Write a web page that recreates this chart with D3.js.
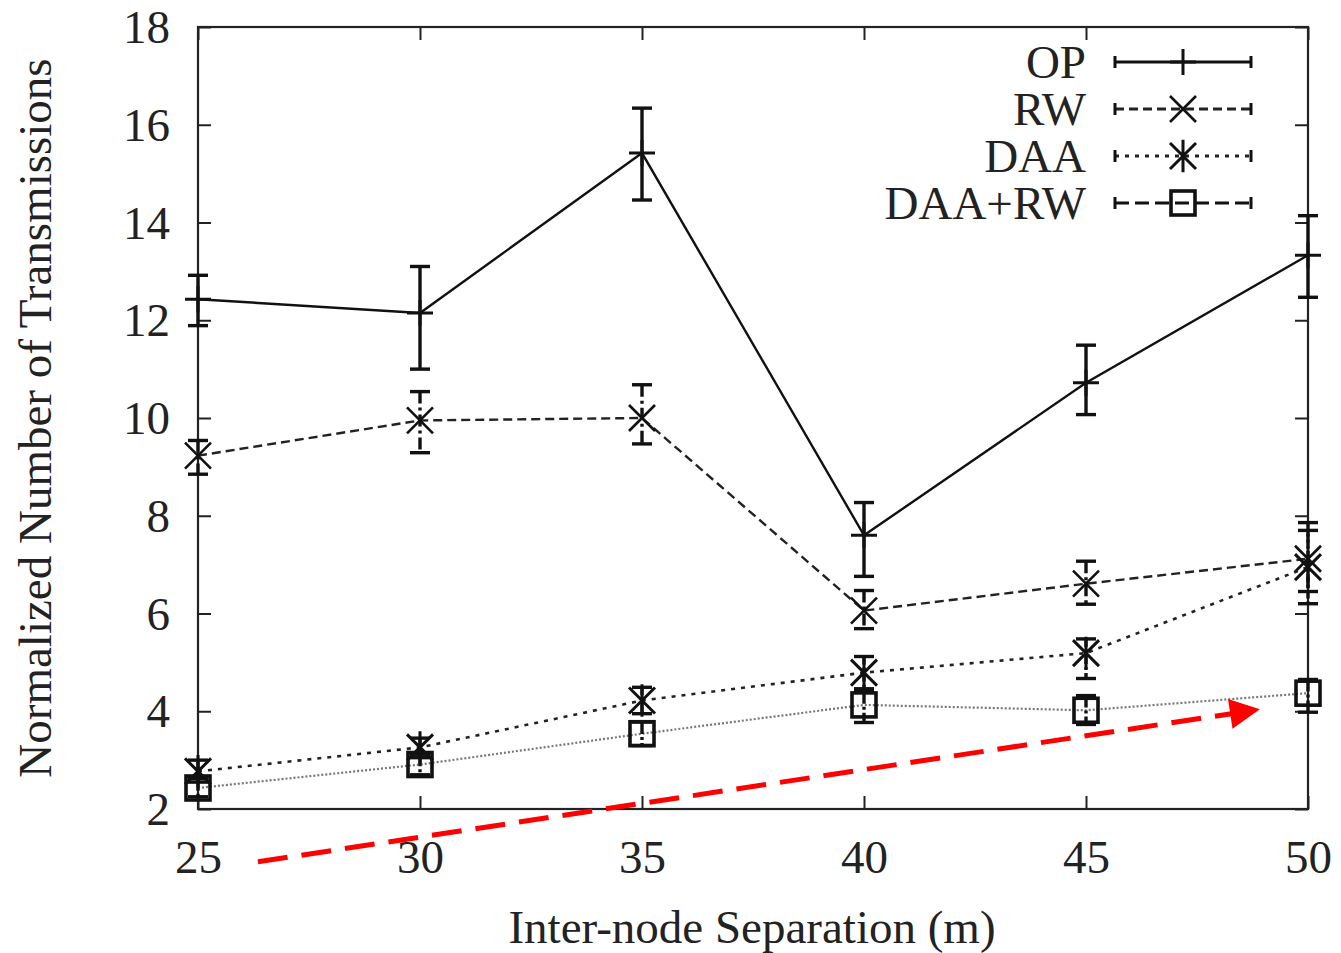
<!DOCTYPE html>
<html><head><meta charset="utf-8">
<script src="https://cdn.jsdelivr.net/npm/d3@7"></script>
<style>body{margin:0;background:#fff}svg{display:block}text{font-family:"Liberation Serif","DejaVu Serif",serif;fill:#222}</style>
</head><body>
<svg id="c" width="1341" height="953"></svg>
<script>
const separation = [25, 30, 35, 40, 45, 50];
const xTicks = [25, 30, 35, 40, 45, 50];
const yTicks = [2, 4, 6, 8, 10, 12, 14, 16, 18];
const seriesNames = ["OP", "RW", "DAA", "DAA+RW"];
const opMean = [12.43, 12.15, 15.42, 7.60, 10.72, 13.33];
const opLow  = [11.89, 11.00, 14.46, 6.76, 10.07, 12.47];
const opHigh = [12.92, 13.10, 16.34, 8.27, 11.49, 14.14];
const rwMean = [9.23, 9.95, 10.00, 6.06, 6.61, 7.12];
const rwLow  = [8.85, 9.29, 9.47, 5.69, 6.19, 6.45];
const rwHigh = [9.54, 10.54, 10.68, 6.47, 7.07, 7.70];
const daaMean = [2.77, 3.26, 4.22, 4.79, 5.19, 6.95];
const daaLow  = [2.55, 3.05, 3.95, 4.46, 4.67, 6.20];
const daaHigh = [3.00, 3.45, 4.49, 5.12, 5.48, 7.86];
const drMean = [2.43, 2.91, 3.54, 4.13, 4.02, 4.37];
const drLow  = [2.25, 2.70, 3.30, 3.77, 3.73, 3.98];
const drHigh = [2.62, 3.12, 3.78, 4.40, 4.32, 4.65];
const arrowFrom = [26.35, 0.92];
const arrowTo = [48.85, 4.03];

const svg = d3.select("#c");
const m = {l:198, r:1308, t:27, b:809};
const x = d3.scaleLinear().domain([25,50]).range([m.l, m.r]);
const y = d3.scaleLinear().domain([2,18]).range([m.b, m.t]);
const FS = 47;

// frame
svg.append("rect").attr("x",m.l).attr("y",m.t).attr("width",m.r-m.l).attr("height",m.b-m.t)
  .attr("fill","none").attr("stroke","#222").attr("stroke-width",2.2);

// axes
const tickLen = 13;
const gx = svg.append("g").attr("transform",`translate(0,${m.b})`)
  .call(d3.axisBottom(x).tickValues(xTicks).tickSize(-tickLen).tickFormat(d3.format("d")));
const gxt = svg.append("g").attr("transform",`translate(0,${m.t})`)
  .call(d3.axisTop(x).tickValues(xTicks).tickSize(-tickLen).tickFormat(""));
const gy = svg.append("g").attr("transform",`translate(${m.l},0)`)
  .call(d3.axisLeft(y).tickValues(yTicks).tickSize(-tickLen).tickFormat(d3.format("d")));
const gyr = svg.append("g").attr("transform",`translate(${m.r},0)`)
  .call(d3.axisRight(y).tickValues(yTicks).tickSize(-tickLen).tickFormat(""));
[gx,gxt,gy,gyr].forEach(g=>{
  g.select(".domain").remove();
  g.selectAll(".tick line").attr("stroke","#222").attr("stroke-width",2);
  g.selectAll(".tick text").attr("font-size",FS).attr("fill","#222");
});
gx.selectAll(".tick text").attr("dy","0.35em").attr("y", 48);
gy.selectAll(".tick text").attr("x", -28).attr("dy","0.33em");

// titles
svg.append("text").attr("x",752).attr("y",943).attr("text-anchor","middle")
  .attr("font-size",FS).text("Inter-node Separation (m)");
svg.append("text").attr("transform",`translate(51,${418}) rotate(-90)`).attr("text-anchor","middle")
  .attr("font-size",FS).text("Normalized Number of Transmissions");

const series = [
  {name:"OP", mean:opMean, lo:opLow, hi:opHigh, dash:null, stroke:"#111", w:2.4, marker:"plus", ebDash:null},
  {name:"RW", mean:rwMean, lo:rwLow, hi:rwHigh, dash:"9,5", stroke:"#222", w:2.4, marker:"x", ebDash:"12,4,3,4"},
  {name:"DAA", mean:daaMean, lo:daaLow, hi:daaHigh, dash:"4,6", stroke:"#222", w:2.6, marker:"star", ebDash:"8,3,3,3"},
  {name:"DAA+RW", mean:drMean, lo:drLow, hi:drHigh, dash:"2,2", stroke:"#777", w:2.2, marker:"square", ebDash:"12,3,3,3"}
];

function drawMarker(g, type, cx, cy){
  const s = 13;
  if(type==="plus"){
    g.append("path").attr("d",`M${cx-s},${cy}H${cx+s}M${cx},${cy-s}V${cy+s}`).attr("stroke","#111").attr("stroke-width",3).attr("fill","none");
  } else if(type==="x"){
    g.append("path").attr("d",`M${cx-s},${cy-s}L${cx+s},${cy+s}M${cx-s},${cy+s}L${cx+s},${cy-s}`).attr("stroke","#111").attr("stroke-width",2.6).attr("fill","none");
  } else if(type==="star"){
    g.append("path").attr("d",`M${cx-s},${cy-s}L${cx+s},${cy+s}M${cx-s},${cy+s}L${cx+s},${cy-s}M${cx},${cy-s*1.25}V${cy+s*1.25}`).attr("stroke","#111").attr("stroke-width",3).attr("fill","none");
  } else if(type==="square"){
    g.append("rect").attr("x",cx-12).attr("y",cy-12).attr("width",24).attr("height",24).attr("fill","none").attr("stroke","#111").attr("stroke-width",3.6);
  }
}

const plot = svg.append("g");
series.forEach(s=>{
  const pts = separation.map((v,i)=>[x(v), y(s.mean[i])]);
  plot.append("path").attr("d", d3.line()(pts)).attr("fill","none")
    .attr("stroke", s.stroke).attr("stroke-width", s.w).attr("stroke-dasharray", s.dash);
  separation.forEach((v,i)=>{
    const cx = x(v), y1 = y(s.hi[i]), y2 = y(s.lo[i]);
    plot.append("line").attr("x1",cx).attr("x2",cx).attr("y1",y1).attr("y2",y2)
      .attr("stroke","#111").attr("stroke-width",3.4).attr("stroke-dasharray", s.ebDash);
    [y1,y2].forEach(yy=>plot.append("line").attr("x1",cx-10).attr("x2",cx+10).attr("y1",yy).attr("y2",yy)
      .attr("stroke","#111").attr("stroke-width",3.4));
    drawMarker(plot, s.marker, cx, y(s.mean[i]));
  });
});

// legend
const leg = svg.append("g");
seriesNames.forEach((n,i)=>{
  const s = series[i];
  const ly = 62 + i*47;
  leg.append("text").attr("x",1086).attr("y",ly).attr("dy","0.35em").attr("text-anchor","end").attr("font-size",FS).text(n);
  leg.append("line").attr("x1",1115).attr("x2",1251).attr("y1",ly).attr("y2",ly)
    .attr("stroke",i===3?"#111":s.stroke).attr("stroke-width",3).attr("stroke-dasharray", i===3?"14,6":s.dash);
  [1115,1251].forEach(xx=>leg.append("line").attr("x1",xx).attr("x2",xx).attr("y1",ly-6).attr("y2",ly+6).attr("stroke","#111").attr("stroke-width",3));
  drawMarker(leg, s.marker, 1183, ly);
});

// red dashed arrow annotation
svg.append("defs").append("marker").attr("id","ah").attr("viewBox","0 0 10 10").attr("refX",9).attr("refY",5)
  .attr("markerWidth",40).attr("markerHeight",30).attr("markerUnits","userSpaceOnUse").attr("orient","auto")
  .append("path").attr("d","M0,0L10,5L0,10Z").attr("fill","#f00");
svg.append("line").attr("x1",x(arrowFrom[0])).attr("y1",y(arrowFrom[1])).attr("x2",x(arrowTo[0])).attr("y2",y(arrowTo[1]))
  .attr("stroke","#f00").attr("stroke-width",5).attr("stroke-dasharray","30,14").attr("marker-end","url(#ah)");
</script>
</body></html>
